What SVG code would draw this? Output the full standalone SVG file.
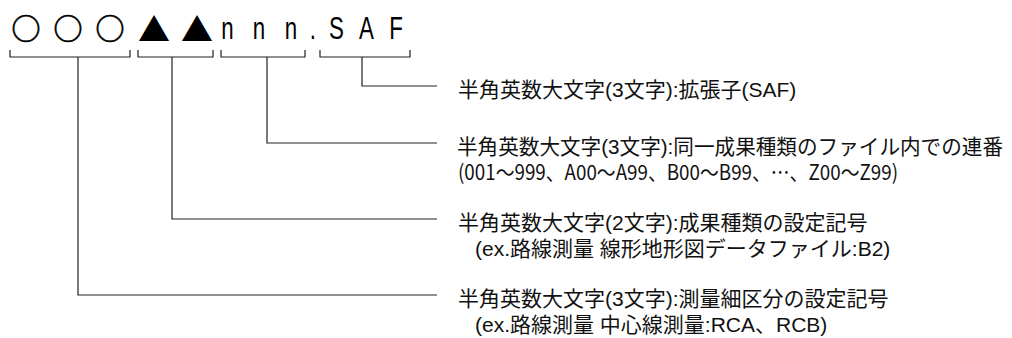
<svg xmlns="http://www.w3.org/2000/svg" width="1012" height="338" viewBox="0 0 1012 338">
<style>
.hdr{font-family:"Noto Sans CJK JP",sans-serif;fill:#000;text-anchor:middle}
.lat{font-family:"Liberation Sans",Arial,sans-serif;font-size:31px;fill:#000;text-anchor:middle}
.lbl{font-family:"Liberation Sans","Noto Sans CJK JP",sans-serif;font-size:21px;fill:#111}
.lbj{font-family:"Noto Sans CJK JP",sans-serif;font-size:21px;fill:#111}
.con{fill:none;stroke:#222;stroke-width:1.2}
</style>
<rect width="1012" height="338" fill="#fff"/>
<g id="filename">
<text class="hdr" x="26 68 110" y="39.5" font-size="29" stroke="#000" stroke-width="0.7">○○○</text>
<text class="hdr" x="154 197" y="41" font-size="32">▲▲</text>
<text class="lat" transform="scale(0.72,1)" x="316 359.7 404.2 434.7 467.4 509 550" y="39">nnn.SAF</text>
</g>
<g id="connectors">
<path class="con" d="M10,50V57H130V50M78,57V295H437"/>
<path class="con" d="M138,50V57H213V50M172,57V219H437"/>
<path class="con" d="M221,50V57H305V50M267,57V143H437"/>
<path class="con" d="M320,50V57H410V50M362,57V86H437"/>
</g>
<g id="node-ext">
<text class="lbl" x="458" y="97">半角英数大文字(3文字):拡張子(SAF)</text>
</g>
<g id="node-serial">
<text class="lbl" x="457" y="154" textLength="546" lengthAdjust="spacingAndGlyphs">半角英数大文字(3文字):同一成果種類のファイル内での連番</text>
<text class="lbj" x="458" y="180" textLength="440" lengthAdjust="spacingAndGlyphs">(001～999、A00～A99、B00～B99、…、Z00～Z99)</text>
</g>
<g id="node-kind">
<text class="lbl" x="458" y="230">半角英数大文字(2文字):成果種類の設定記号</text>
<text class="lbl" x="475" y="256">(ex.路線測量 線形地形図データファイル:B2)</text>
</g>
<g id="node-sub">
<text class="lbl" x="458" y="306">半角英数大文字(3文字):測量細区分の設定記号</text>
<text class="lbl" x="475" y="332">(ex.路線測量 中心線測量:RCA、RCB)</text>
</g>
</svg>
